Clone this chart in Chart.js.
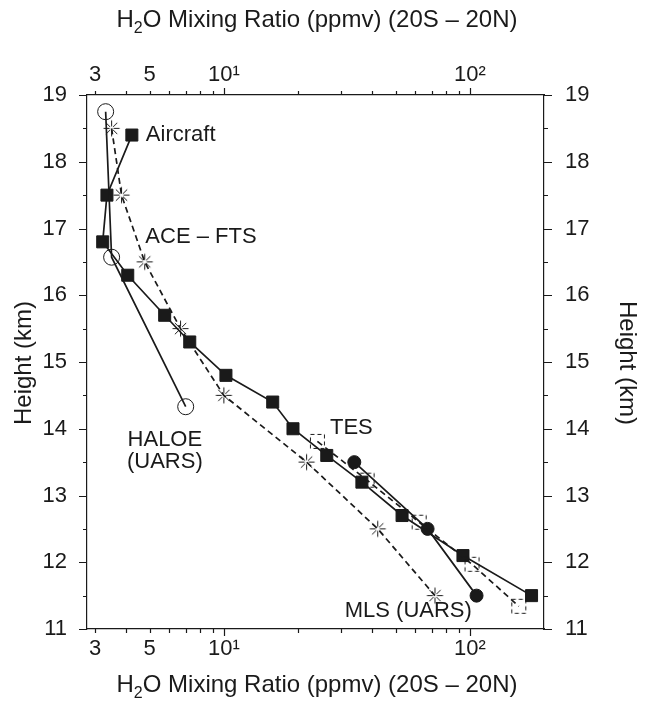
<!DOCTYPE html>
<html>
<head>
<meta charset="UTF-8">
<title>H2O profiles</title>
<script src="https://cdn.jsdelivr.net/npm/chart.js@4.4.1/dist/chart.umd.min.js"></script>
<style>
  body { margin: 0; background: #fff; }
  canvas { display: block; }
</style>
</head>
<body>
<canvas id="chart" width="645" height="702"></canvas>
<script>
// data: x = H2O mixing ratio (ppmv), y = height (km)
const aircraftX = [4.23, 3.35, 3.22, 4.07, 5.75, 7.27, 10.2, 15.8, 19.1, 26.2, 36.4, 53.0, 93.7, 178];
const aircraftY = [18.4, 17.5, 16.8, 16.3, 15.7, 15.3, 14.8, 14.4, 14.0, 13.6, 13.2, 12.7, 12.1, 11.5];
const aceX = [3.5, 3.84, 4.77, 6.67, 10.0, 21.7, 42.2, 72.1];
const aceY = [18.5, 17.5, 16.5, 15.5, 14.5, 13.5, 12.5, 11.5];
const haloeX = [3.31, 3.5, 7.0];
const haloeY = [18.75, 16.57, 14.33];
const mlsX = [33.9, 67.3, 106.4];
const mlsY = [13.5, 12.5, 11.5];
const tesX = [24.0, 38.2, 62.2, 102, 158];
const tesY = [13.81, 13.23, 12.6, 11.97, 11.34];

const xMin = 2.78, xMax = 200;
const yMin = 11, yMax = 19;
const xTicks = [3, 4, 5, 6, 7, 8, 9, 10, 20, 30, 40, 50, 60, 70, 80, 90, 100];
const xMajor = [10, 100];
const xLabels = { 3: '3', 5: '5', 10: '10\u00b9', 100: '10\u00b2' };
const yTicks = [11, 11.5, 12, 12.5, 13, 13.5, 14, 14.5, 15, 15.5, 16, 16.5, 17, 17.5, 18, 18.5, 19];

// text labels next to the curves, in data coordinates
const notes = [
  { text: 'Aircraft', x: 4.82, y: 18.4, align: 'left' },
  { text: 'ACE \u2013 FTS', x: 4.8, y: 16.88, align: 'left' },
  { text: 'HALOE', x: 5.76, y: 13.83, align: 'center' },
  { text: '(UARS)', x: 5.76, y: 13.5, align: 'center' },
  { text: 'TES', x: 27.0, y: 14.01, align: 'left' },
  { text: 'MLS (UARS)', x: 31.0, y: 11.27, align: 'left' }
];

const ink = '#1a1a1a';
const fontFamily = '"Liberation Sans", Arial, sans-serif';

function pts(xs, ys) {
  return xs.map((v, i) => ({ x: v, y: ys[i] }));
}

function dashedSquare() {
  const c = document.createElement('canvas');
  c.width = 17; c.height = 17;
  const g = c.getContext('2d');
  g.strokeStyle = ink;
  g.lineWidth = 1;
  g.setLineDash([4, 3]);
  g.strokeRect(1.5, 1.5, 14, 14);
  return c;
}

function asterisk() {
  const c = document.createElement('canvas');
  c.width = 19; c.height = 19;
  const g = c.getContext('2d');
  g.strokeStyle = ink;
  g.lineWidth = 1;
  g.translate(9.5, 9.5);
  for (let k = 0; k < 8; k++) {
    const a = k * Math.PI / 4;
    g.beginPath();
    g.moveTo(2 * Math.cos(a), 2 * Math.sin(a));
    g.lineTo(8 * Math.cos(a), 8 * Math.sin(a));
    g.stroke();
  }
  return c;
}

const framePlugin = {
  id: 'frame',
  afterDraw(chart) {
    const { ctx, chartArea: a, scales } = chart;
    ctx.save();
    ctx.strokeStyle = ink;
    ctx.lineWidth = 1.2;
    ctx.beginPath();
    xTicks.forEach(v => {
      const px = Math.round(scales.x.getPixelForValue(v)) + 0.5;
      const len = xMajor.includes(v) ? 7 : 4;
      ctx.moveTo(px, a.bottom); ctx.lineTo(px, a.bottom + len);
      ctx.moveTo(px, a.top); ctx.lineTo(px, a.top - len);
    });
    yTicks.forEach(v => {
      const py = Math.round(scales.y.getPixelForValue(v)) + 0.5;
      const len = Number.isInteger(v) ? 8 : 4;
      ctx.moveTo(a.left, py); ctx.lineTo(a.left - len, py);
      ctx.moveTo(a.right, py); ctx.lineTo(a.right + len, py);
    });
    ctx.stroke();

    // curve labels
    ctx.fillStyle = ink;
    ctx.font = '22px ' + fontFamily;
    ctx.textBaseline = 'middle';
    notes.forEach(n => {
      ctx.textAlign = n.align;
      ctx.fillText(n.text, scales.x.getPixelForValue(n.x), scales.y.getPixelForValue(n.y));
    });

    // axis titles
    const title = (cx, cy) => {
      const big = '24px ' + fontFamily, small = '16px ' + fontFamily;
      ctx.font = big;
      const wH = ctx.measureText('H').width;
      const rest = 'O Mixing Ratio (ppmv) (20S \u2013 20N)';
      const wR = ctx.measureText(rest).width;
      ctx.font = small;
      const w2 = ctx.measureText('2').width;
      let x = cx - (wH + w2 + wR) / 2;
      ctx.textAlign = 'left';
      ctx.textBaseline = 'alphabetic';
      ctx.font = big; ctx.fillText('H', x, cy); x += wH;
      ctx.font = small; ctx.fillText('2', x, cy + 6); x += w2;
      ctx.font = big; ctx.fillText(rest, x, cy);
    };
    title(317, 27);
    title(317, 692);

    ctx.font = '24px ' + fontFamily;
    ctx.textAlign = 'center';
    ctx.textBaseline = 'middle';
    ctx.save();
    ctx.translate(24, 363);
    ctx.rotate(-Math.PI / 2);
    ctx.fillText('Height (km)', 0, 0);
    ctx.restore();
    ctx.save();
    ctx.translate(627, 363);
    ctx.rotate(Math.PI / 2);
    ctx.fillText('Height (km)', 0, 0);
    ctx.restore();
    ctx.restore();
  }
};

const xAxis = (pos, h, pad) => ({
  type: 'logarithmic',
  position: pos,
  min: xMin,
  max: xMax,
  afterBuildTicks: s => { s.ticks = xTicks.map(v => ({ value: v })); },
  afterFit: s => { s.height = h; },
  grid: { display: false, drawTicks: false },
  border: { display: true, color: ink, width: 1.2 },
  ticks: {
    autoSkip: false, maxRotation: 0, padding: pad, color: ink,
    font: { family: fontFamily, size: 22 },
    callback: v => xLabels[v] || ''
  }
});

const yAxis = (pos, w, pad) => ({
  type: 'linear',
  position: pos,
  min: yMin,
  max: yMax,
  afterFit: s => { s.width = w; },
  grid: { display: false, drawTicks: false },
  border: { display: true, color: ink, width: 1.2 },
  ticks: {
    stepSize: 1, padding: pad, color: ink,
    font: { family: fontFamily, size: 22 }
  }
});

const line = { showLine: true, borderColor: ink, borderWidth: 1.7, pointBorderColor: ink, pointBorderWidth: 1, fill: false };

new Chart('chart', {
  type: 'scatter',
  data: {
    datasets: [
      Object.assign({}, line, { label: 'HALOE (UARS)', data: pts(haloeX, haloeY),
        pointStyle: 'circle', pointRadius: 8, pointBackgroundColor: 'rgba(0,0,0,0)' }),
      Object.assign({}, line, { label: 'ACE - FTS', data: pts(aceX, aceY), borderDash: [6, 4],
        pointStyle: asterisk(), pointRadius: 9 }),
      Object.assign({}, line, { label: 'TES', data: pts(tesX, tesY), borderDash: [6, 4],
        pointStyle: dashedSquare(), pointRadius: 8 }),
      Object.assign({}, line, { label: 'MLS (UARS)', data: pts(mlsX, mlsY),
        pointStyle: 'circle', pointRadius: 6.5, pointBackgroundColor: ink }),
      Object.assign({}, line, { label: 'Aircraft', data: pts(aircraftX, aircraftY),
        pointStyle: 'rect', pointRadius: 8.5, pointBackgroundColor: ink })
    ]
  },
  options: {
    responsive: false,
    animation: false,
    layout: { padding: 0 },
    plugins: { legend: { display: false }, tooltip: { enabled: false } },
    scales: {
      x: xAxis('bottom', 73, 7),
      x2: xAxis('top', 95, 7),
      y: yAxis('left', 87, 20),
      y2: yAxis('right', 101, 21)
    }
  },
  plugins: [framePlugin]
});
</script>
</body>
</html>
